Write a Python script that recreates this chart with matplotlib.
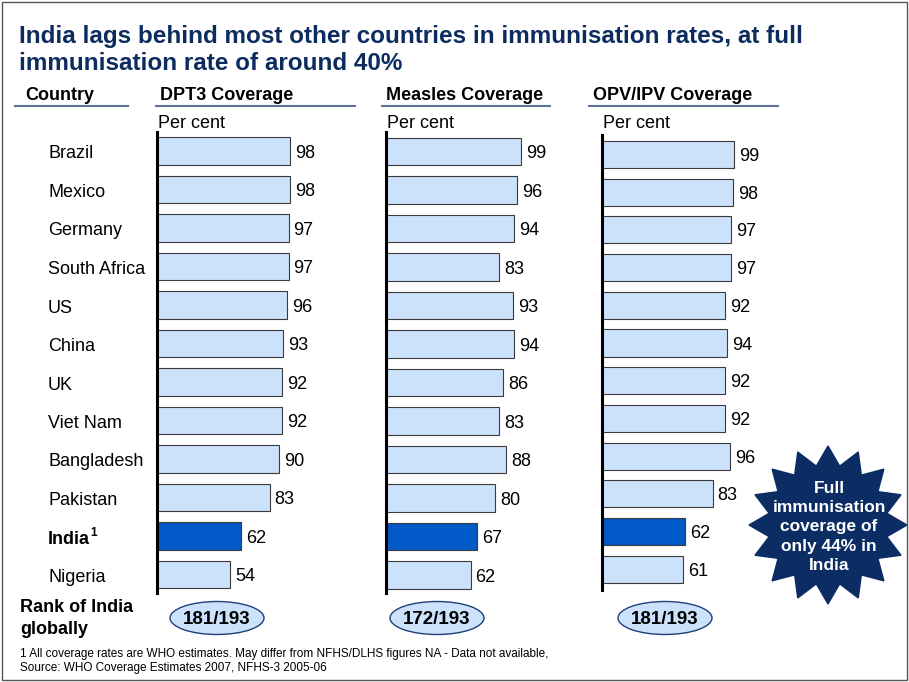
import matplotlib

matplotlib.use("Agg")

import matplotlib.pyplot as plt
import numpy as np
from matplotlib.patches import Ellipse, Polygon, Rectangle

plt.rcParams["font.family"] = ["Liberation Sans", "DejaVu Sans"]

W, H = 909, 682

countries = ["Brazil", "Mexico", "Germany", "South Africa", "US", "China", "UK",
             "Viet Nam", "Bangladesh", "Pakistan", "India", "Nigeria"]
dpt3 = [98, 98, 97, 97, 96, 93, 92, 92, 90, 83, 62, 54]
measles = [99, 96, 94, 83, 93, 94, 86, 83, 88, 80, 67, 62]
opv_ipv = [99, 98, 97, 97, 92, 94, 92, 92, 96, 83, 62, 61]
panel_titles = ["DPT3 Coverage", "Measles Coverage", "OPV/IPV Coverage"]
india_ranks = ["181/193", "172/193", "181/193"]
highlight = "India"

TITLE_C = "#0c2c5f"
LIGHT = "#cce2fb"
DARK = "#0059c6"
LINE_C = "#5a7298"
FS = 13


def fx(x):
    return x / W


def fy(y):
    return 1 - y / H


fig = plt.figure(figsize=(W / 100, H / 100), dpi=100)
fig.patch.set_facecolor("white")

# outer frame
fig.patches.append(Rectangle((fx(2), fy(680)), fx(905), 678 / H, transform=fig.transFigure,
                             fill=False, edgecolor="#555555", linewidth=1.0))

fig.text(fx(19), fy(36), "India lags behind most other countries in immunisation rates, at full",
         fontsize=17.5, fontweight="bold", color=TITLE_C, va="center")
fig.text(fx(19), fy(63), "immunisation rate of around 40%",
         fontsize=17.5, fontweight="bold", color=TITLE_C, va="center")

fig.text(fx(25), fy(95), "Country", fontsize=FS, fontweight="bold", va="center")
fig.lines.append(plt.Line2D([fx(15), fx(128)], [fy(106), fy(106)], transform=fig.transFigure,
                            color=LINE_C, linewidth=1.5))

# (axis x px, px per unit, first row y, row step, axis top, axis bottom, header x, underline end)
panels = [
    (157, 1.357, 151.0, 38.5, 132, 593, 160, 355),
    (386, 1.365, 151.5, 38.5, 132, 593, 386, 550),
    (602, 1.335, 154.5, 37.7, 135, 590, 593, 778),
]
series = [dpt3, measles, opv_ipv]
ellipse_x = [217, 437, 665]

for (x0, ppu, r0, step, ytop, ybot, hx, hend), vals, title, rank, ex in zip(
        panels, series, panel_titles, india_ranks, ellipse_x):
    ax = fig.add_axes([fx(x0), fy(ybot), 110 * ppu / W, (ybot - ytop) / H])
    y = np.arange(len(countries))
    colors = [DARK if c == highlight else LIGHT for c in countries]
    ax.barh(y, vals, height=0.72, color=colors, edgecolor="#3a3a3a", linewidth=0.8)
    for yi, v in zip(y, vals):
        ax.annotate(str(v), (v, yi), xytext=(3.5, -1.5), textcoords="offset points",
                    va="center", ha="left", fontsize=FS)
    ax.set_xlim(0, 110)
    ax.set_ylim((ybot - r0) / step, (ytop - r0) / step)
    for s in ["top", "right", "bottom"]:
        ax.spines[s].set_visible(False)
    ax.spines["left"].set_linewidth(2.2)
    ax.set_xticks([])
    ax.set_yticks([])
    ax.patch.set_visible(False)

    fig.text(fx(hx), fy(95), title, fontsize=FS, fontweight="bold", va="center")
    fig.lines.append(plt.Line2D([fx(hx - 4), fx(hend)], [fy(106), fy(106)],
                                transform=fig.transFigure, color=LINE_C, linewidth=1.5))
    fig.text(fx(x0 + 1), fy(124), "Per cent", fontsize=FS, va="center")

    fig.patches.append(Ellipse((fx(ex), fy(618)), 94 / W, 33 / H, transform=fig.transFigure,
                               facecolor=LIGHT, edgecolor="#1f3f78", linewidth=1.0))
    fig.text(fx(ex), fy(619), rank, fontsize=13.5, fontweight="bold", ha="center", va="center")

# country labels
renderer = fig.canvas.get_renderer()
for i, c in enumerate(countries):
    yc = 154 + 38.5 * i
    if c == highlight:
        t = fig.text(fx(48), fy(yc), c, fontsize=FS, fontweight="bold", va="center")
        bb = t.get_window_extent(renderer)
        fig.text(bb.x1 / W + fx(0.5), fy(yc - 6), "1", fontsize=8.5, fontweight="bold",
                 va="center")
    else:
        fig.text(fx(48), fy(yc), c, fontsize=FS, va="center")

fig.text(fx(20), fy(607), "Rank of India", fontsize=FS, fontweight="bold", va="center")
fig.text(fx(20), fy(630), "globally", fontsize=FS, fontweight="bold", va="center")

fig.text(fx(20), fy(654), "1 All coverage rates are WHO estimates. May differ from NFHS/DLHS "
         "figures NA - Data not available,", fontsize=8.5, va="center")
fig.text(fx(20), fy(668), "Source: WHO Coverage Estimates 2007, NFHS-3 2005-06",
         fontsize=8.5, va="center")

# 16-point star callout
cx, cy, r_out, r_in = 828, 525, 79, 60
ang = np.pi / 2 - np.arange(32) * np.pi / 16
rad = np.where(np.arange(32) % 2 == 0, r_out, r_in)
pts = np.column_stack([fx(cx + rad * np.cos(ang)), fy(cy - rad * np.sin(ang))])
fig.patches.append(Polygon(pts, closed=True, transform=fig.transFigure,
                           facecolor="#0b2d63", edgecolor="#0b2d63"))
fig.text(fx(cx + 1), fy(527), "Full\nimmunisation\ncoverage of\nonly 44% in\nIndia",
         fontsize=12.5, fontweight="bold", color="white", ha="center", va="center",
         linespacing=1.35)

fig.savefig("out.png", dpi=100)
